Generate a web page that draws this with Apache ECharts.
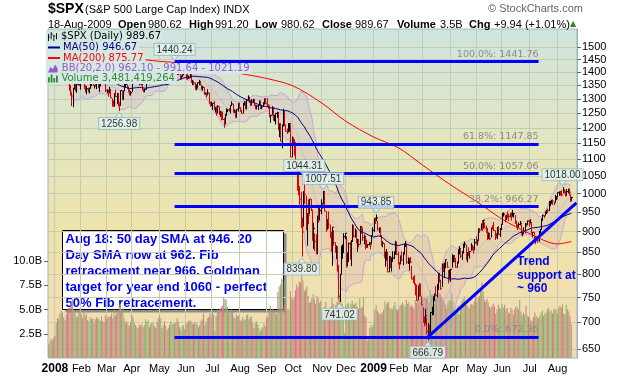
<!DOCTYPE html>
<html>
<head>
<meta charset="utf-8">
<script src="https://cdn.jsdelivr.net/npm/echarts@6/dist/echarts.min.js"></script>
<style>
  html, body { margin: 0; padding: 0; background: #fff; }
  #chart { width: 620px; height: 376px; }
</style>
</head>
<body>
<div id="chart"></div>
<script>
// months shown on the chart (Dec 2007 only has its last 5 sessions)
const monthKeys = ['2007-12','2008-01','2008-02','2008-03','2008-04','2008-05','2008-06','2008-07','2008-08','2008-09','2008-10','2008-11','2008-12',
                   '2009-01','2009-02','2009-03','2009-04','2009-05','2009-06','2009-07','2009-08'];
const monthNames = ['Dec','2008','Feb','Mar','Apr','May','Jun','Jul','Aug','Sep','Oct','Nov','Dec','2009','Feb','Mar','Apr','May','Jun','Jul','Aug'];
const daysInMonth = [5,21,20,20,22,21,21,22,21,21,23,19,22,20,19,22,21,20,22,22,12];

// closes before the first bar, only used so MA(50) / BB(20) have history
const warmupClose = [
  1500.6,1506.3,1519.6,1515.9,1514.4,1535.3,1541.0,1531.0,1549.4,
  1508.4,1509.7,1502.2,1520.3,1475.6,1474.8,1453.7,1439.2,1481.1,1470.6,1451.2,1458.7,1433.3,1439.7,1416.8,1440.7,1407.2,1428.2,1469.0,1469.7,1481.1,
  1472.4,1462.8,1485.0,1507.3,1504.7,1516.0,1477.7,1486.6,1488.4,1468.0,1445.9,1455.0,1453.0,1460.1,1484.5
];

const spxClose = [
  1496.5,1497.7,1476.3,1478.5,1468.4,
  1447.2,1447.2,1411.6,1416.2,1390.2,1409.1,1420.3,1401.0,1416.3,1380.9,1373.2,1333.3,1325.2,1310.5,1338.6,1352.1,1330.6,1354.0,1362.3,1355.8,1378.6,
  1395.4,1380.8,1336.6,1326.5,1336.9,1331.3,1339.1,1348.9,1367.2,1348.9,1350.0,1348.8,1360.0,1342.5,1353.1,1371.8,1381.3,1380.0,1367.7,1330.6,
  1331.3,1326.8,1333.7,1304.3,1293.4,1273.4,1320.7,1308.8,1315.5,1288.1,1276.6,1330.7,1298.4,1329.5,1349.9,1353.0,1341.1,1325.8,1315.2,1322.7,
  1370.2,1367.5,1369.3,1370.4,1372.5,1365.5,1354.5,1360.6,1332.8,1328.3,1334.4,1364.7,1365.6,1390.3,1388.2,1375.9,1379.9,1388.8,1397.8,1396.4,1390.9,1385.6,
  1409.3,1413.9,1407.5,1418.3,1392.6,1397.7,1388.3,1403.6,1403.0,1408.7,1423.6,1425.4,1426.6,1413.4,1390.7,1394.4,1375.9,1385.4,1390.8,1398.3,1400.4,
  1385.7,1377.7,1378.0,1404.1,1360.7,1361.8,1358.4,1335.5,1339.9,1360.0,1360.1,1350.9,1337.8,1342.8,1317.9,1318.0,1314.3,1322.0,1283.2,1278.4,1280.0,
  1284.9,1261.5,1262.9,1252.3,1273.7,1244.7,1253.4,1239.5,1228.3,1214.9,1245.4,1260.3,1260.7,1260.0,1277.0,1282.2,1252.5,1257.8,1234.4,1263.2,1284.3,1267.4,
  1260.3,1249.0,1284.9,1289.2,1266.1,1296.3,1305.3,1289.6,1285.8,1292.9,1298.2,1278.6,1266.7,1274.5,1277.7,1292.2,1266.8,1271.5,1281.7,1300.7,1282.8,
  1277.6,1275.0,1236.8,1242.3,1267.8,1224.5,1232.0,1249.1,1251.7,1192.7,1213.6,1156.4,1206.5,1255.1,1207.1,1188.2,1185.9,1209.2,1213.3,1106.4,1166.4,
  1161.1,1114.3,1099.2,1056.9,996.2,984.9,909.9,899.2,1003.4,998.0,907.8,946.4,940.6,985.4,955.1,896.8,908.1,876.8,848.9,940.5,930.1,954.1,968.8,
  966.3,1005.8,952.8,904.9,931.0,919.2,899.0,852.3,911.3,873.3,850.8,859.1,806.6,752.4,800.0,851.8,857.4,887.7,896.2,
  816.2,848.8,870.7,845.2,876.1,909.7,888.7,899.2,873.6,879.7,868.6,913.2,904.4,885.3,887.9,871.6,863.2,868.2,872.8,869.4,890.6,903.3,
  931.8,927.5,934.7,906.7,909.7,890.4,871.0,871.8,842.6,843.7,850.1,805.2,840.2,827.5,832.0,836.6,845.7,874.1,845.1,825.9,
  825.4,838.5,832.2,845.9,868.6,870.0,827.2,833.7,835.3,826.8,789.2,788.4,778.9,770.1,743.3,773.1,764.9,752.8,735.1,
  700.8,696.3,712.9,682.6,683.4,676.5,719.6,721.4,750.7,756.6,753.9,778.1,794.4,784.0,768.5,822.9,806.1,813.9,832.9,815.9,787.5,797.9,
  811.1,834.4,842.5,835.5,815.6,825.2,856.6,858.7,841.5,852.1,865.3,869.6,832.4,850.1,843.6,851.9,866.2,857.5,855.2,873.6,872.8,
  877.5,907.2,903.8,919.5,907.4,929.2,909.2,908.4,883.9,893.1,882.9,909.7,908.1,903.5,888.3,887.0,910.3,893.1,906.8,919.1,
  942.9,944.7,931.8,942.5,940.1,939.1,942.4,939.2,944.9,946.2,923.7,912.0,910.7,918.4,921.2,893.0,895.1,900.9,920.3,918.9,927.2,919.3,
  923.3,896.4,898.7,881.0,879.6,882.7,879.1,901.1,905.8,932.7,940.7,940.4,951.1,954.6,954.1,976.3,979.3,982.2,979.6,975.2,986.8,987.5,
  1002.6,1005.7,1002.7,997.1,1010.5,1007.1,994.4,1005.8,1012.7,1004.1,979.7,989.7
];

const spxHigh = [
  1497.8,1498.9,1498.9,1488.3,1475.8,
  1471.8,1456.8,1444.0,1423.9,1430.3,1409.2,1429.1,1419.9,1417.9,1416.3,1391.0,1383.9,1350.3,1322.7,1339.9,1355.2,1368.6,1354.0,1364.9,1385.6,1385.6,
  1396.0,1395.4,1380.8,1351.0,1347.3,1341.2,1341.2,1368.0,1369.2,1368.1,1350.0,1367.9,1363.3,1367.9,1354.8,1374.7,1387.3,1382.3,1380.0,1367.7,
  1335.1,1331.3,1344.7,1333.7,1302.4,1295.0,1320.7,1333.3,1321.7,1321.5,1284.4,1330.7,1331.0,1330.0,1360.8,1357.1,1353.0,1345.6,1334.9,1328.5,
  1370.2,1377.0,1375.7,1380.9,1386.7,1370.9,1368.4,1367.3,1359.7,1335.6,1336.9,1365.5,1368.8,1395.9,1390.2,1388.2,1387.4,1397.7,1397.8,1402.9,1397.9,1404.6,
  1409.3,1422.7,1415.3,1421.6,1419.3,1404.1,1394.6,1404.6,1406.3,1420.2,1424.4,1425.8,1440.2,1426.6,1419.0,1405.4,1394.4,1387.4,1391.4,1406.3,1405.6,
  1399.4,1396.0,1387.1,1405.8,1404.1,1370.6,1366.8,1361.2,1353.5,1360.0,1370.6,1366.6,1350.9,1347.8,1342.8,1323.9,1322.4,1335.6,1322.0,1290.5,1290.6,
  1285.0,1292.2,1271.7,1273.9,1277.4,1273.7,1257.7,1254.6,1255.2,1234.4,1246.3,1267.0,1263.2,1267.7,1277.4,1291.2,1283.0,1263.2,1260.1,1263.2,1284.3,1284.3,
  1270.5,1260.3,1285.0,1291.7,1289.2,1297.0,1313.2,1304.8,1294.7,1300.1,1300.2,1300.2,1278.6,1277.6,1279.3,1293.8,1292.2,1276.0,1288.3,1300.7,1300.7,
  1303.0,1280.6,1275.0,1243.0,1274.4,1270.1,1243.9,1249.1,1255.1,1251.7,1214.0,1213.6,1211.1,1265.1,1255.1,1211.9,1197.4,1215.8,1215.8,1209.1,1171.4,
  1167.0,1161.1,1153.8,1097.6,1072.9,1021.1,1005.3,936.4,1006.9,1044.3,994.5,947.7,984.4,985.4,985.4,955.1,922.8,896.1,893.8,940.5,970.0,963.2,984.4,
  975.2,1007.5,1005.8,952.4,931.5,952.0,917.3,899.0,911.3,904.0,873.4,866.3,864.6,820.5,801.2,865.6,868.9,896.3,896.3,
  888.6,849.0,873.1,875.6,879.4,918.6,916.3,908.3,904.6,882.3,880.6,914.0,911.0,911.0,892.7,887.4,880.4,869.8,873.7,873.7,891.1,911.0,
  934.7,936.6,943.9,927.5,910.0,911.9,890.4,877.0,871.8,851.6,858.1,849.6,841.7,840.2,838.2,852.5,852.5,877.9,874.1,851.7,
  826.0,842.6,851.9,850.6,870.8,877.0,869.3,838.2,835.3,839.4,818.8,796.2,797.6,778.7,777.5,775.5,781.0,779.4,751.3,
  729.6,711.7,727.0,708.5,699.1,695.3,719.6,731.0,752.6,758.3,774.5,778.1,803.0,803.2,788.1,823.4,823.4,826.3,833.0,828.7,809.1,810.5,
  811.1,845.6,842.5,842.5,835.5,828.4,856.9,864.3,856.7,853.0,870.4,875.6,868.3,850.1,861.8,852.9,871.8,868.3,864.5,882.1,888.7,
  880.5,907.9,907.7,920.3,929.6,930.2,923.0,915.6,908.4,898.4,897.0,910.0,916.4,924.6,903.4,896.7,911.8,913.8,909.5,920.0,
  947.8,949.4,942.5,942.5,951.7,946.3,946.9,949.8,956.2,946.3,942.4,928.0,918.4,923.1,927.1,918.1,898.7,910.9,921.4,922.0,928.0,930.0,
  931.9,921.2,898.7,898.6,886.8,887.9,883.6,901.1,905.8,933.0,944.0,941.9,951.6,956.5,959.8,979.4,979.8,982.5,982.2,977.8,996.7,993.2,
  1003.6,1005.7,1006.6,1008.9,1018.0,1010.1,1005.8,1012.8,1013.1,1012.6,998.6,991.2
];

const spxLow = [
  1486.7,1488.3,1476.3,1465.3,1465.1,
  1442.1,1443.7,1411.2,1403.5,1388.3,1378.7,1395.3,1394.8,1402.3,1380.0,1364.3,1330.7,1312.5,1274.3,1270.1,1334.3,1327.5,1322.3,1350.3,1348.2,1334.1,
  1375.0,1379.7,1336.6,1324.3,1316.8,1324.3,1320.3,1339.1,1348.9,1347.3,1338.1,1345.1,1336.0,1339.3,1325.0,1346.0,1363.3,1365.4,1364.3,1325.4,
  1320.0,1307.9,1320.2,1303.0,1272.7,1272.7,1274.9,1307.2,1282.4,1274.9,1257.0,1276.6,1298.4,1295.3,1329.5,1341.2,1336.4,1325.7,1313.0,1312.8,
  1326.4,1359.5,1358.7,1362.8,1369.0,1360.2,1348.5,1350.1,1331.5,1324.4,1324.4,1334.4,1357.9,1365.6,1379.3,1370.2,1369.8,1371.1,1379.8,1394.4,1386.7,1384.0,
  1385.6,1406.3,1404.4,1397.1,1391.2,1389.4,1384.1,1386.2,1396.3,1403.0,1406.9,1414.5,1415.6,1410.0,1388.8,1390.7,1371.4,1373.1,1382.4,1388.6,1398.3,
  1373.0,1370.2,1374.9,1377.0,1359.9,1350.7,1351.6,1334.0,1331.8,1341.4,1350.4,1350.5,1333.3,1330.4,1317.6,1315.3,1305.0,1314.3,1283.2,1272.0,1274.9,
  1260.7,1261.5,1252.0,1240.7,1248.3,1244.7,1236.8,1225.3,1226.3,1200.4,1211.4,1240.6,1253.5,1255.7,1248.8,1276.1,1251.5,1251.8,1234.4,1235.0,1255.7,1265.1,
  1254.5,1247.5,1249.0,1276.0,1262.6,1262.8,1291.7,1285.6,1274.9,1276.8,1286.6,1274.5,1263.2,1262.8,1261.3,1277.7,1264.4,1263.1,1271.5,1282.1,1282.8,
  1272.2,1265.6,1236.8,1217.2,1242.3,1224.5,1221.6,1211.5,1233.8,1192.7,1169.3,1155.9,1133.5,1206.5,1205.6,1187.6,1179.8,1185.9,1187.5,1106.4,1106.4,
  1140.8,1111.4,1098.1,1008.0,996.2,970.4,909.2,839.8,912.8,972.1,904.0,865.8,918.7,944.6,952.5,877.6,858.4,852.9,845.3,845.3,922.3,928.9,944.6,
  958.6,971.1,952.4,899.7,906.9,907.5,884.9,852.3,818.7,866.0,849.0,834.0,806.2,747.8,741.0,801.2,835.0,848.0,881.2,
  815.7,818.4,827.6,833.3,818.4,876.1,885.4,885.5,871.2,851.4,862.1,868.6,895.4,877.4,869.1,857.1,860.1,861.4,866.5,857.1,870.6,889.6,
  899.4,919.5,927.3,902.4,896.8,888.3,864.3,862.0,836.9,817.0,830.7,804.5,804.3,814.0,806.1,827.7,834.0,845.7,844.0,821.7,
  811.0,822.0,829.2,819.9,845.9,862.5,822.8,823.0,808.1,825.2,789.2,780.4,777.0,754.3,743.3,745.0,751.9,751.8,734.5,
  699.7,692.3,697.9,677.9,666.8,672.9,679.3,713.9,714.8,742.5,753.4,749.9,765.6,781.8,766.2,772.3,805.0,791.4,814.0,814.6,779.8,790.9,
  783.3,814.5,826.7,826.8,814.6,814.8,825.2,845.4,836.3,831.9,847.0,860.9,832.4,826.8,840.6,835.6,853.9,854.6,847.1,856.0,868.6,
  866.1,879.2,897.3,904.0,901.4,909.8,908.7,896.5,879.6,882.5,878.9,886.1,905.2,901.4,879.6,884.1,881.5,891.9,887.6,903.8,
  919.1,938.5,923.9,929.3,934.1,926.4,936.7,928.0,939.0,935.7,919.7,911.6,903.8,910.7,915.8,893.0,888.9,896.6,896.3,913.0,916.2,912.9,
  920.8,896.4,886.4,879.9,869.3,878.4,872.8,875.3,896.1,905.8,927.5,934.4,940.9,945.4,947.2,953.3,965.9,972.3,969.4,968.7,976.3,982.4,
  990.2,994.3,994.3,992.5,1001.0,1000.9,992.4,993.4,1000.8,994.6,978.5,980.6
];

// volume in billions of shares
const volumeB = [
  1.4,1.7,2.0,1.8,2.1,
  2.3,3.6,4.1,4.0,4.6,4.9,4.7,4.2,3.9,4.5,5.0,5.2,5.4,5.8,6.1,5.0,4.7,4.3,4.2,4.8,5.1,
  4.5,4.1,4.8,4.4,4.6,3.9,3.8,4.2,4.0,4.1,3.6,4.0,4.2,4.1,4.0,3.8,4.3,3.8,3.7,4.4,
  4.0,4.3,4.2,4.3,4.6,4.1,5.0,4.4,4.7,4.9,5.5,5.6,5.0,5.2,4.1,3.6,3.8,3.5,3.3,3.7,
  4.5,4.2,3.6,3.4,3.2,3.1,3.5,3.3,3.5,3.2,3.4,4.0,3.7,3.9,3.2,3.5,3.7,3.6,3.3,3.1,3.7,4.1,
  4.4,4.1,3.1,3.4,3.8,3.3,2.9,3.1,3.4,3.8,3.6,3.5,3.6,3.7,4.1,3.8,3.2,2.9,3.3,3.4,3.0,
  3.5,3.7,3.8,3.9,3.8,3.6,3.5,3.7,3.6,3.5,3.2,3.4,3.8,4.0,4.6,3.4,3.7,4.1,4.2,4.6,4.3,
  4.7,4.5,2.8,4.3,5.0,4.9,5.1,5.3,5.4,6.2,6.1,6.0,5.3,4.7,4.9,5.0,4.8,4.2,4.1,4.5,4.3,4.4,
  3.9,3.8,4.2,4.0,3.9,4.4,4.5,4.0,4.2,4.3,3.7,3.1,3.6,3.8,3.5,3.1,2.8,3.0,3.2,3.6,3.3,
  4.1,4.3,4.8,5.4,4.8,5.1,4.8,4.9,4.5,6.8,7.4,7.6,8.2,8.0,5.5,5.3,4.9,5.1,5.0,6.9,6.2,
  6.0,6.3,7.0,7.6,7.3,7.9,7.8,8.8,8.0,6.9,7.1,7.4,6.4,5.7,5.8,6.2,6.6,6.1,5.6,6.4,6.2,5.7,5.9,
  4.4,5.0,5.3,5.8,5.0,4.7,5.0,5.3,6.2,5.6,5.0,5.5,5.8,6.4,6.6,6.0,5.6,5.2,2.6,
  5.4,5.6,5.7,5.2,5.6,5.9,5.5,5.6,5.7,5.3,5.1,6.2,5.2,5.3,6.3,4.4,4.2,1.8,1.9,3.1,3.4,3.2,
  3.6,5.0,5.5,4.9,4.7,4.5,4.6,4.7,5.0,5.9,5.5,5.7,5.8,5.2,5.1,5.0,5.4,5.8,5.1,4.9,
  5.1,5.4,5.5,5.8,5.5,5.3,6.0,5.6,5.8,5.3,5.5,5.3,5.1,6.0,5.7,6.3,6.1,5.8,6.0,
  6.1,6.3,6.3,6.1,6.4,5.8,7.0,6.5,6.6,5.6,6.4,6.2,7.1,6.7,6.6,6.3,6.1,5.9,5.5,5.1,5.7,6.0,
  5.9,6.7,5.9,5.1,4.9,4.7,5.4,4.5,5.5,5.9,6.1,6.4,5.9,5.5,5.3,5.1,5.5,5.6,5.5,5.9,6.6,
  5.7,6.2,6.4,7.2,7.8,6.9,6.0,5.8,6.1,5.7,5.3,5.2,5.4,5.6,5.3,4.6,5.0,5.5,5.2,5.1,
  5.6,5.2,5.5,5.0,5.2,4.7,4.6,5.2,5.0,4.5,5.0,5.3,5.2,5.0,6.0,4.8,4.4,4.7,4.5,5.4,4.4,4.3,
  4.1,3.9,3.8,4.2,4.7,4.4,4.2,4.1,4.4,4.7,4.9,4.4,4.6,4.7,5.0,5.2,4.8,4.9,4.6,5.0,5.1,5.0,
  4.6,5.2,5.4,5.2,5.6,4.6,4.5,5.5,5.0,4.8,4.3,3.5
];

// MA(200): [month, session in month, value]
const ma200Points = [
  ['2007-12',0,1497],['2008-01',0,1492],['2008-02',0,1481],['2008-03',0,1468],['2008-04',0,1455],['2008-05',0,1443],
  ['2008-06',0,1434],['2008-07',0,1414],['2008-08',0,1395],['2008-09',0,1376],['2008-10',0,1348],['2008-11',0,1285],
  ['2008-12',0,1222],['2009-01',0,1170],['2009-02',0,1135],['2009-03',0,1082],['2009-04',0,1025],['2009-05',0,978],
  ['2009-06',0,932],['2009-07',0,895],['2009-08',0,870],['2009-08',11,875.8]
];

// price flags: [month, session, label value]
const peakLabels = [['2008-05',12,1440.24],['2008-10',9,1044.31],['2008-11',1,1007.51],['2009-01',2,943.85],['2009-08',4,1018.00]];
const troughLabels = [['2008-03',10,1256.98],['2008-10',7,839.80],['2008-11',14,741.02],['2009-03',4,666.79]];

// Fibonacci retracement drawn from the May 2008 high to the March 2009 low
const fibPercent = ['100.0%','61.8%','50.0%','38.2%','0.0%'];
const fibValues = [1441.76, 1147.85, 1057.06, 966.27, 672.36];
const fibFrom = ['2008-05',12];
const fibTo = ['2009-07',7];
const trendValues = [672, 975];

const priceTicks = [650,700,750,800,850,900,950,1000,1050,1100,1150,1200,1250,1300,1350,1400,1450,1500];
const volumeTicks = [2.5e9, 5e9, 7.5e9, 1e10];

const nDays = spxClose.length;
if (spxHigh.length !== nDays || spxLow.length !== nDays || volumeB.length !== nDays || nDays !== 416) {
  throw new Error('length mismatch ' + [nDays, spxHigh.length, spxLow.length, volumeB.length].join(','));
}

// categories: one per session plus 4 empty slots on the right
const categories = [];
const labelAt = {};
monthKeys.forEach(function (mk, m) {
  for (let d = 0; d < daysInMonth[m]; d++) {
    const c = mk + '#' + d;
    if (d === 0 && m > 0) labelAt[c] = monthNames[m];
    categories.push(c);
  }
});
for (let k = 0; k < 4; k++) categories.push('pad' + k);
function cat(mk, d) { return mk + '#' + d; }

const L = Math.log;
const allClose = warmupClose.concat(spxClose);
const off = warmupClose.length;

function sma(j, n) {
  let s = 0;
  for (let k = j - n + 1; k <= j; k++) s += allClose[k];
  return s / n;
}

const barData = [], volData = [], ma50 = [], bbLow = [], bbBand = [], bbMid = [];
for (let i = 0; i < nDays; i++) {
  const j = i + off;
  const up = allClose[j] >= allClose[j - 1] ? 1 : 0;
  barData.push([categories[i], L(spxLow[i]), L(spxHigh[i]), L(spxClose[i]), up]);
  volData.push({ value: volumeB[i] * 1e9, itemStyle: { color: up ? '#8db06c' : '#d27a80' } });
  ma50.push(j >= 49 ? [categories[i], L(sma(j, 50))] : [categories[i], null]);
  const mid = sma(j, 20);
  let v = 0;
  for (let k = j - 19; k <= j; k++) v += (allClose[k] - mid) * (allClose[k] - mid);
  const sd = Math.sqrt(v / 20);
  bbLow.push([categories[i], L(mid - 2 * sd)]);
  bbBand.push([categories[i], L(mid + 2 * sd) - L(mid - 2 * sd)]);
  bbMid.push([categories[i], L(mid)]);
}

const ma200Data = ma200Points.map(p => [cat(p[0], p[1]), L(p[2])]);

const fibLines = fibValues.map(function (v, k) {
  return [
    { coord: [cat(fibFrom[0], fibFrom[1]), L(v)] },
    { coord: [cat(fibTo[0], fibTo[1]), L(v)],
      label: { formatter: fibPercent[k] + ': ' + v.toFixed(2) } }
  ];
});
const trendLine = [
  { coord: [cat('2009-03', 4), L(trendValues[0])] },
  { coord: ['pad3', L(trendValues[1])], label: { show: false } }
];

const flagStyle = {
  show: true,
  color: '#000',
  fontSize: 10,
  fontFamily: 'Liberation Sans',
  backgroundColor: '#e2f5f5',
  borderColor: '#9ab8b8',
  borderWidth: 1,
  padding: [1, 2, 0, 2],
  formatter: p => p.data[2].toFixed(2)
};

function renderBar(params, api) {
  const x = Math.round(api.coord([api.value(0), api.value(1)])[0]) + 0.5;
  const lo = api.coord([api.value(0), api.value(1)])[1];
  const hi = api.coord([api.value(0), api.value(2)])[1];
  const cl = api.coord([api.value(0), api.value(3)])[1];
  const color = api.value(4) ? '#000' : '#e00000';
  return {
    type: 'group',
    children: [
      { type: 'line', shape: { x1: x, y1: lo, x2: x, y2: hi }, style: { stroke: color, lineWidth: 1 } },
      { type: 'line', shape: { x1: x, y1: cl, x2: x + 1.5, y2: cl }, style: { stroke: color, lineWidth: 1 } }
    ]
  };
}

function legendRow(top, name, text, color, icon, w, h) {
  return {
    left: 46, top: top, orient: 'horizontal',
    z: 50,
    selectedMode: false,
    padding: [0, 2, 0, 2],
    itemGap: 0, itemWidth: w, itemHeight: h,
    backgroundColor: '#d5e8e3',
    data: [{ name: name, icon: icon, itemStyle: { color: color } }],
    formatter: () => text,
    textStyle: { color: color, fontSize: 10, fontFamily: 'DejaVu Sans', lineHeight: 11, padding: [0, 0, 0, -2] }
  };
}

const chart = echarts.init(document.getElementById('chart'), null, { renderer: 'canvas' });

const option = {
  animation: false,
  legend: [
    legendRow(31, '$SPX', '$SPX (Daily) 989.67', '#000', 'path://M0,2h1v8h-1zM1,5h1v1h-1zM3,0h1v8h-1zM4,2h1v1h-1zM6,3h1v7h-1zM7,4h1v1h-1zM9,1h1v7h-1z', 11, 9),
    legendRow(42, 'MA(50)', 'MA(50) 946.67', '#000080', 'rect', 12, 2),
    legendRow(52.5, 'MA(200)', 'MA(200) 875.77', '#ff0000', 'rect', 12, 2),
    legendRow(63, 'BB', 'BB(20,2.0) 962.10 - 991.64 - 1021.19', '#9b59c9', 'path://M0,10L3,3L6,6L9,0L12,5L12,10Z', 12, 8),
    legendRow(73, 'Volume', 'Volume 3,481,419,264', '#2f8a2f', 'path://M0,4h2v6h-2zM3,1h2v9h-2zM6,5h2v5h-2zM9,2h2v8h-2z', 11, 8)
  ],
  grid: {
    left: 48, right: 43, top: 29, bottom: 18,
    show: true,
    borderColor: '#a3b6ba',
    borderWidth: 1,
    backgroundColor: {
      type: 'linear', x: 0, y: 0, x2: 0, y2: 1,
      colorStops: [
        { offset: 0, color: '#cfe4e0' },
        { offset: 0.35, color: '#e3e6c0' },
        { offset: 0.62, color: '#efe3ab' },
        { offset: 1, color: '#f2dbb4' }
      ]
    }
  },
  xAxis: {
    type: 'category',
    data: categories,
    boundaryGap: true,
    axisLine: { show: false },
    axisTick: { show: false },
    axisLabel: {
      interval: (i, v) => labelAt[v] !== undefined,
      formatter: function (v) {
        const t = labelAt[v] || '';
        return /^\d{4}$/.test(t) ? '{yr|' + t + '}' : t;
      },
      color: '#000', fontSize: 11, fontFamily: 'Liberation Sans', margin: 5,
      rich: { yr: { fontWeight: 'bold', fontSize: 12, color: '#000', fontFamily: 'Liberation Sans' } }
    },
    splitLine: { show: true, lineStyle: { color: '#c4ccb2', width: 1 } }
  },
  yAxis: [
    {
      type: 'value',
      position: 'right',
      min: L(634.3),
      max: L(1578),
      axisLine: { show: true, lineStyle: { color: '#8fb0b8', type: 'dotted' } },
      axisTick: { show: true, length: 4, customValues: priceTicks.map(L), lineStyle: { color: '#666' } },
      axisLabel: {
        customValues: priceTicks.map(L),
        formatter: v => String(Math.round(Math.exp(v))),
        color: '#000', fontSize: 11, fontFamily: 'Liberation Sans', margin: 5
      },
      splitLine: { show: true, lineStyle: { color: '#c4ccb2', width: 1 } }
    },
    {
      type: 'value',
      position: 'left',
      min: 0,
      max: 34e9,
      axisLine: { show: false },
      axisTick: { show: true, length: 4, customValues: volumeTicks, lineStyle: { color: '#666' } },
      axisLabel: {
        customValues: volumeTicks,
        formatter: v => (v / 1e9).toFixed(1) + 'B',
        color: '#000', fontSize: 11, fontFamily: 'Liberation Sans', margin: 6
      },
      splitLine: { show: false }
    }
  ],
  series: [
    {
      name: 'Volume', type: 'bar', yAxisIndex: 1, data: volData,
      barCategoryGap: '20%', silent: true, z: 1
    },
    {
      name: 'bbLower', type: 'line', data: bbLow, stack: 'bb', symbol: 'none', silent: true, z: 2,
      lineStyle: { color: '#c3a7d6', width: 1 }
    },
    {
      name: 'BB', type: 'line', data: bbBand, stack: 'bb', symbol: 'none', silent: true, z: 2,
      color: '#9b59c9',
      lineStyle: { color: '#c3a7d6', width: 1 },
      areaStyle: { color: 'rgba(205,150,190,0.30)' }
    },
    {
      name: 'bbMid', type: 'line', data: bbMid, symbol: 'none', silent: true, z: 2,
      lineStyle: { color: '#c0a6d2', width: 1, type: 'dotted' }
    },
    {
      name: '$SPX', type: 'custom', data: barData, renderItem: renderBar, silent: true, z: 3,
      color: '#000',
      encode: { x: 0, y: [1, 2, 3] }
    },
    {
      name: 'MA(50)', type: 'line', data: ma50, symbol: 'none', silent: true, z: 4,
      color: '#000080', lineStyle: { color: '#000080', width: 1 }
    },
    {
      name: 'MA(200)', type: 'line', data: ma200Data, symbol: 'none', smooth: 0.3, silent: true, z: 4,
      color: '#ff0000', lineStyle: { color: '#ff0000', width: 1 },
      markLine: {
        silent: true, symbol: 'none', z: 5,
        lineStyle: { color: '#0000ff', width: 3, type: 'solid' },
        label: {
          show: true, position: 'insideEndTop', distance: [0, 2],
          color: '#8a8a8a', fontSize: 9.5, fontFamily: 'DejaVu Sans'
        },
        data: fibLines.concat([trendLine])
      }
    },
    {
      name: 'peaks', type: 'scatter', silent: true, z: 6,
      data: peakLabels.map(p => [cat(p[0], p[1]), L(p[2]), p[2]]),
      symbol: 'triangle', symbolRotate: 180, symbolSize: [8, 5], symbolOffset: [0, -4],
      itemStyle: { color: '#e2f5f5', borderColor: '#9ab8b8', borderWidth: 1 },
      label: Object.assign({ position: 'top', distance: 0 }, flagStyle)
    },
    {
      name: 'troughs', type: 'scatter', silent: true, z: 6,
      data: troughLabels.map(p => [cat(p[0], p[1]), L(p[2]), p[2]]),
      symbol: 'triangle', symbolSize: [8, 5], symbolOffset: [0, 4],
      itemStyle: { color: '#e2f5f5', borderColor: '#9ab8b8', borderWidth: 1 },
      label: Object.assign({ position: 'bottom', distance: 0 }, flagStyle)
    }
  ],
  graphic: [
    { type: 'text', left: 48, top: 2, style: { text: '$SPX', font: 'bold 14px "Liberation Sans"', fill: '#000' } },
    { type: 'text', left: 85, top: 4, style: { text: '(S&P 500 Large Cap Index) INDX', font: '11px "Liberation Sans"', fill: '#000' } },
    { type: 'text', left: 488, top: 3, style: { text: '\u00a9 StockCharts.com', font: '11px "Liberation Sans"', fill: '#666' } },
    { type: 'text', left: 48, top: 19, style: { text: '18-Aug-2009', font: '11px "Liberation Sans"', fill: '#000' } },
    { type: 'text', left: 118, top: 19, style: { text: 'Open', font: 'bold 11px "Liberation Sans"', fill: '#000' } },
    { type: 'text', left: 148, top: 19, style: { text: '980.62', font: '11px "Liberation Sans"', fill: '#000' } },
    { type: 'text', left: 189, top: 19, style: { text: 'High', font: 'bold 11px "Liberation Sans"', fill: '#000' } },
    { type: 'text', left: 215, top: 19, style: { text: '991.20', font: '11px "Liberation Sans"', fill: '#000' } },
    { type: 'text', left: 255, top: 19, style: { text: 'Low', font: 'bold 11px "Liberation Sans"', fill: '#000' } },
    { type: 'text', left: 281, top: 19, style: { text: '980.62', font: '11px "Liberation Sans"', fill: '#000' } },
    { type: 'text', left: 322, top: 19, style: { text: 'Close', font: 'bold 11px "Liberation Sans"', fill: '#000' } },
    { type: 'text', left: 355, top: 19, style: { text: '989.67', font: '11px "Liberation Sans"', fill: '#000' } },
    { type: 'text', left: 397, top: 19, style: { text: 'Volume', font: 'bold 11px "Liberation Sans"', fill: '#000' } },
    { type: 'text', left: 440, top: 19, style: { text: '3.5B', font: '11px "Liberation Sans"', fill: '#000' } },
    { type: 'text', left: 469, top: 19, style: { text: 'Chg', font: 'bold 11px "Liberation Sans"', fill: '#000' } },
    { type: 'text', left: 494, top: 19, style: { text: '+9.94 (+1.01%)', font: '11px "Liberation Sans"', fill: '#000' } },
    { type: 'text', left: 570, top: 20, style: { text: '\u25b2', font: '8px "DejaVu Sans"', fill: '#2a8a2a' } },
    {
      type: 'group', left: 62, top: 230, z: 100,
      children: [
        { type: 'rect', shape: { x: 3, y: 3, width: 221, height: 79 }, style: { fill: '#8c8c8c' } },
        { type: 'rect', shape: { x: 0, y: 0, width: 221, height: 79 }, style: { fill: '#fff', stroke: '#000', lineWidth: 1 } },
        {
          type: 'text', x: 3, y: 1,
          style: {
            text: 'Aug 18: 50 day SMA at 946. 20\nDay SMA now at 962. Fib\nretracement near 966. Goldman\ntarget for year end 1060 - perfect\n50% Fib retracement.',
            font: 'bold 13px "Liberation Sans"', fill: '#0000ee', lineHeight: 16
          }
        }
      ]
    },
    {
      type: 'text', left: 517, top: 255, z: 100,
      style: { text: 'Trend\nsupport at\n~ 960', font: 'bold 12px "Liberation Sans"', fill: '#0000ee', lineHeight: 13.5 }
    }
  ]
};

chart.setOption(option);
</script>
</body>
</html>
